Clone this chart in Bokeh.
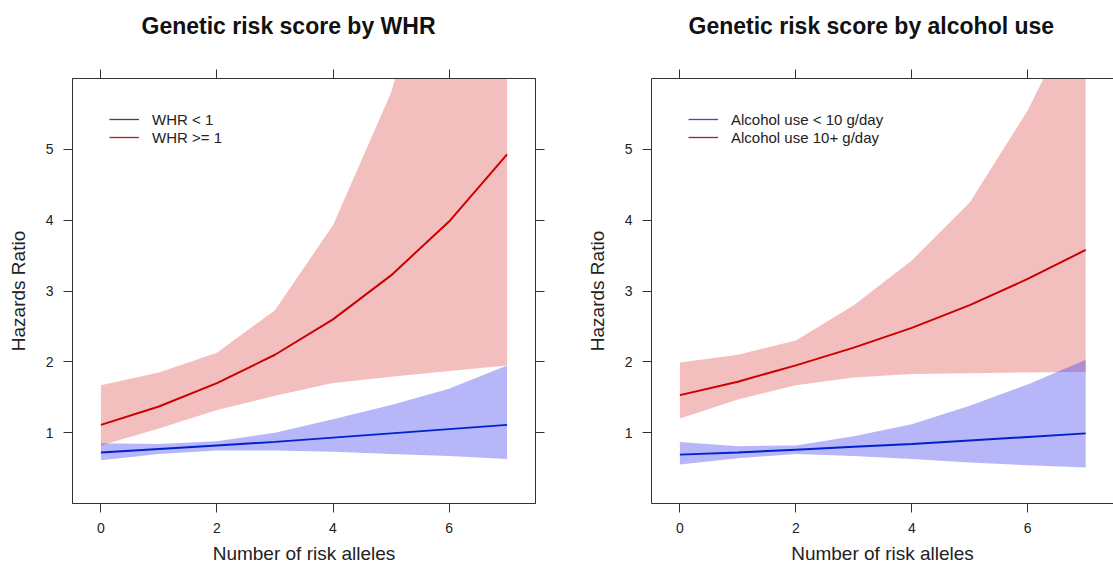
from bokeh.plotting import figure
from bokeh.models import LinearAxis, FixedTicker, Range1d, Legend, LegendItem, ColumnDataSource
from bokeh.layouts import row
from bokeh.embed import file_html
from bokeh.resources import INLINE

# ---------------- data ----------------
risk_alleles = [0, 1, 2, 3, 4, 5, 6, 7]

# Panel 1: by WHR
whr_lt1_est = [0.72, 0.77, 0.82, 0.87, 0.93, 0.99, 1.05, 1.11]
whr_lt1_lo = [0.61, 0.70, 0.75, 0.75, 0.73, 0.70, 0.67, 0.63]
whr_lt1_hi = [0.85, 0.84, 0.88, 1.00, 1.19, 1.39, 1.62, 1.95]
whr_ge1_est = [1.11, 1.37, 1.70, 2.10, 2.60, 3.22, 3.98, 4.93]
whr_ge1_lo = [0.82, 1.06, 1.32, 1.52, 1.70, 1.79, 1.87, 1.95]
whr_ge1_hi = [1.67, 1.85, 2.13, 2.73, 3.93, 5.80, 8.60, 12.5]

# Panel 2: by alcohol use
alc_lt10_est = [0.69, 0.72, 0.76, 0.80, 0.84, 0.89, 0.94, 0.99]
alc_lt10_lo = [0.55, 0.64, 0.70, 0.67, 0.63, 0.58, 0.54, 0.51]
alc_lt10_hi = [0.87, 0.81, 0.82, 0.95, 1.12, 1.38, 1.68, 2.03]
alc_ge10_est = [1.53, 1.72, 1.95, 2.20, 2.48, 2.80, 3.17, 3.58]
alc_ge10_lo = [1.20, 1.47, 1.67, 1.78, 1.83, 1.84, 1.85, 1.86]
alc_ge10_hi = [1.99, 2.10, 2.30, 2.80, 3.43, 4.25, 5.55, 7.20]

titles = ["Genetic risk score by WHR", "Genetic risk score by alcohol use"]
legend_labels = [["WHR < 1", "WHR >= 1"], ["Alcohol use < 10 g/day", "Alcohol use 10+ g/day"]]
x_ticks = [0, 2, 4, 6]
y_ticks = [1, 2, 3, 4, 5]

FONT = "Liberation Sans"
AX = "#333333"
TXT = "#222222"
NAN = float("nan")


def style_axis(ax):
    ax.axis_line_color = AX
    ax.major_tick_line_color = AX
    ax.major_tick_out = 9
    ax.major_tick_in = 0
    ax.minor_tick_line_color = None
    ax.major_label_text_font = FONT
    ax.major_label_text_font_size = "14px"
    ax.major_label_text_color = TXT
    ax.major_label_standoff = 10
    ax.axis_label_text_font = FONT
    ax.axis_label_text_font_size = "19px"
    ax.axis_label_text_font_style = "normal"
    ax.axis_label_text_color = TXT


def make_panel(title, width, mb_left, mb_right, x_end, lt_est, lt_lo, lt_hi, ge_est, ge_lo, ge_hi,
               labels, legend_colors, title_offset, right_axis=True):
    p = figure(width=width, height=566, x_range=Range1d(-0.49, x_end), y_range=Range1d(0, 6),
               output_backend="svg", toolbar_location=None,
               min_border_left=mb_left, min_border_right=mb_right, min_border_top=78, min_border_bottom=63,
               title=title)
    p.title.text_font = FONT
    p.title.text_font_size = "23px"
    p.title.text_font_style = "bold"
    p.title.text_color = "#111111"
    p.title.align = "left"
    p.title.offset = title_offset
    p.title.standoff = 18
    p.grid.visible = False
    p.background_fill_color = "white"
    p.border_fill_color = "white"
    p.outline_line_color = AX if right_axis else None

    src = ColumnDataSource(dict(x=risk_alleles, lt_est=lt_est, lt_lo=lt_lo, lt_hi=lt_hi,
                                ge_est=ge_est, ge_lo=ge_lo, ge_hi=ge_hi))
    p.varea(x="x", y1="ge_lo", y2="ge_hi", source=src, fill_color="#e05555", fill_alpha=0.38)
    p.varea(x="x", y1="lt_lo", y2="lt_hi", source=src, fill_color="#4040f0", fill_alpha=0.38)
    p.line(x="x", y="ge_est", source=src, line_color="#cc0000", line_width=2)
    p.line(x="x", y="lt_est", source=src, line_color="#0022cc", line_width=2)

    # legend key samples (styled like the reference key)
    r1 = p.line(x=[NAN], y=[NAN], line_color=legend_colors[0], line_width=1.3)
    r2 = p.line(x=[NAN], y=[NAN], line_color=legend_colors[1], line_width=1.3)
    leg = Legend(items=[LegendItem(label=labels[0], renderers=[r1]),
                        LegendItem(label=labels[1], renderers=[r2])],
                 location=(37, 357), orientation="vertical",
                 border_line_color=None, background_fill_alpha=0,
                 margin=0, padding=0, spacing=0,
                 glyph_width=30, glyph_height=18, label_height=18, label_standoff=13,
                 label_text_font=FONT, label_text_font_size="15px", label_text_color=TXT)
    p.add_layout(leg, "center")

    xb = p.xaxis[0]
    xb.ticker = FixedTicker(ticks=x_ticks)
    style_axis(xb)
    xb.major_label_standoff = 10
    xb.axis_label = "Number of risk alleles"
    xb.axis_label_standoff = 7

    yl = p.yaxis[0]
    yl.ticker = FixedTicker(ticks=y_ticks)
    style_axis(yl)
    yl.axis_label = "Hazards Ratio"
    yl.axis_label_standoff = 14

    top = LinearAxis(ticker=FixedTicker(ticks=x_ticks))
    style_axis(top)
    top.major_label_standoff = 0
    top.major_label_overrides = {t: "" for t in x_ticks}
    p.add_layout(top, "above")

    # invisible spacer axis that lifts the title away from the frame
    spacer = LinearAxis(ticker=FixedTicker(ticks=x_ticks))
    spacer.axis_line_color = None
    spacer.major_tick_line_color = None
    spacer.minor_tick_line_color = None
    spacer.major_tick_out = 22
    spacer.major_tick_in = 0
    spacer.major_label_standoff = 0
    spacer.major_label_overrides = {t: "" for t in x_ticks}
    p.add_layout(spacer, "above")

    if right_axis:
        ra = LinearAxis(ticker=FixedTicker(ticks=y_ticks))
        style_axis(ra)
        ra.major_label_standoff = 0
        ra.major_label_overrides = {t: "" for t in y_ticks}
        p.add_layout(ra, "right")
    return p


p1 = make_panel(titles[0], 556, 72, 21, 7.49, whr_lt1_est, whr_lt1_lo, whr_lt1_hi,
                whr_ge1_est, whr_ge1_lo, whr_ge1_hi, legend_labels[0], ["#444444", "#b02020"], 69)
p2 = make_panel(titles[1], 557, 95, 0, 7.48, alc_lt10_est, alc_lt10_lo, alc_lt10_hi,
                alc_ge10_est, alc_ge10_lo, alc_ge10_hi, legend_labels[1], ["#4a4aa8", "#a02030"], 37,
                right_axis=False)

layout = row(p1, p2)
open("out.html", "w").write(file_html(layout, INLINE))
